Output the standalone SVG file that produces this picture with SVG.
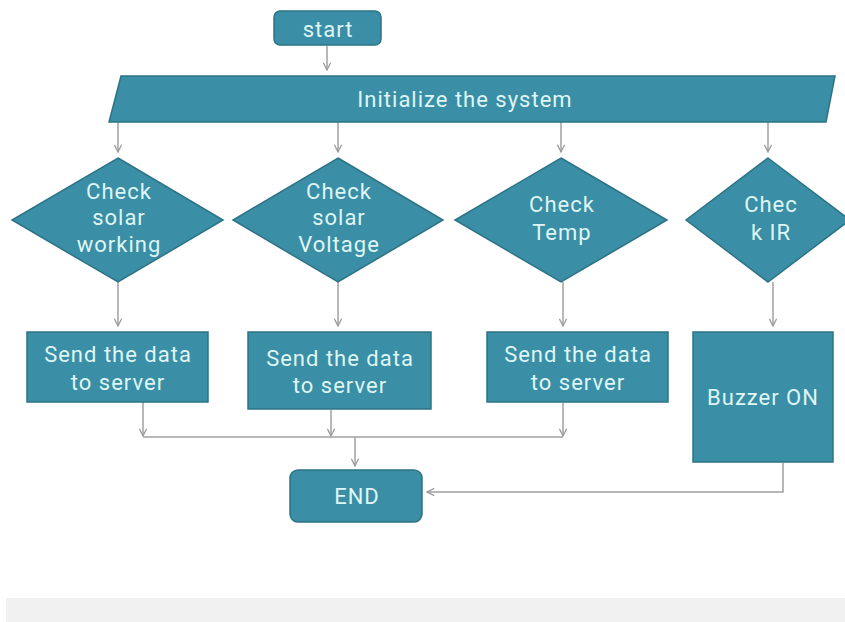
<svg xmlns="http://www.w3.org/2000/svg" width="845" height="622" viewBox="0 0 845 622">
<defs>
<marker id="arr" viewBox="0 0 10 10" refX="9" refY="5" markerWidth="9" markerHeight="9" markerUnits="userSpaceOnUse" orient="auto">
<path d="M1,1 L9,5 L1,9" fill="none" stroke="#9a9a9a" stroke-width="1.4"/>
</marker>
</defs>
<style>
.n{fill:#3a8ea5;stroke:#2d7386;stroke-width:1.5}
.t{font-family:Roboto,"Liberation Sans",sans-serif;font-size:22px;letter-spacing:1px;fill:#dff6f6;text-anchor:middle}
.c{fill:none;stroke:#a0a0a0;stroke-width:1.5}
.a{marker-end:url(#arr)}
</style>
<rect width="845" height="622" fill="#ffffff"/>
<rect x="6" y="598" width="839" height="24" fill="#f1f1f1"/>
<g id="connectors">
<path class="c a" d="M327,46 V70"/>
<path class="c a" d="M118,122 V152"/>
<path class="c a" d="M338,122 V152"/>
<path class="c a" d="M561,122 V152"/>
<path class="c a" d="M768,122 V152"/>
<path class="c a" d="M118,282 V326"/>
<path class="c a" d="M338,282 V326"/>
<path class="c a" d="M563,282 V326"/>
<path class="c a" d="M773,282 V326"/>
<path class="c a" d="M143,402 V436"/>
<path class="c a" d="M331,410 V436"/>
<path class="c a" d="M563,403 V436"/>
<path class="c" d="M143,437 H563"/>
<path class="c a" d="M355,437 V466"/>
<path class="c a" d="M783,463 V492 H427"/>
</g>
<g id="start"><rect class="n" x="274" y="11" width="107" height="34" rx="6"/><text class="t" x="328" y="37">start</text></g>
<g id="init"><polygon class="n" points="121,76 835,76 826,122 109,122"/><text class="t" x="465" y="107">Initialize the system</text></g>
<g id="d1"><polygon class="n" points="118,158 223,220 118,282 12,220"/><text class="t" x="119" y="199">Check</text><text class="t" x="119" y="225">solar</text><text class="t" x="119" y="252">working</text></g>
<g id="d2"><polygon class="n" points="338,158 443,220 338,282 233,220"/><text class="t" x="339" y="199">Check</text><text class="t" x="339" y="225">solar</text><text class="t" x="339" y="252">Voltage</text></g>
<g id="d3"><polygon class="n" points="561,158 667,220 561,282 455,220"/><text class="t" x="562" y="212">Check</text><text class="t" x="562" y="240">Temp</text></g>
<g id="d4"><polygon class="n" points="768,158 850,220 768,282 686,220"/><text class="t" x="771" y="212">Chec</text><text class="t" x="771" y="240">k IR</text></g>
<g id="b1"><rect class="n" x="27" y="332" width="181" height="70"/><text class="t" x="118" y="362">Send the data</text><text class="t" x="118" y="390">to server</text></g>
<g id="b2"><rect class="n" x="248" y="332" width="183" height="77"/><text class="t" x="340" y="366">Send the data</text><text class="t" x="340" y="393">to server</text></g>
<g id="b3"><rect class="n" x="487" y="332" width="181" height="70"/><text class="t" x="578" y="362">Send the data</text><text class="t" x="578" y="390">to server</text></g>
<g id="b4"><rect class="n" x="693" y="332" width="140" height="130"/><text class="t" x="763" y="405">Buzzer ON</text></g>
<g id="end"><rect class="n" x="290" y="470" width="132" height="52" rx="8"/><text class="t" x="357" y="504">END</text></g>
</svg>
